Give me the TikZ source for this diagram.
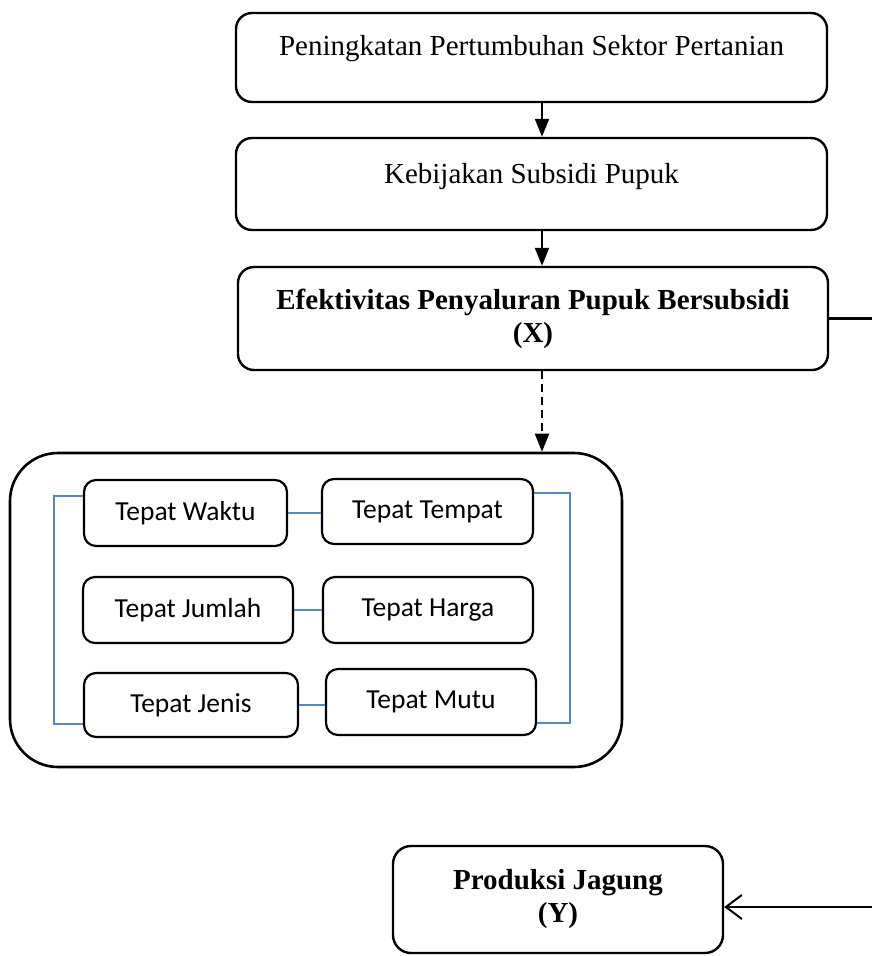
\documentclass[tikz,border=0pt]{standalone}
\usepackage{fontspec}
\setmainfont{Liberation Serif}
\newfontfamily\calibri{Carlito}
\usepackage{tikz}
\usetikzlibrary{arrows.meta}
\definecolor{linkblue}{RGB}{84,132,212}

\begin{document}
\begin{tikzpicture}[x=1pt, y=-1pt,
        topbox/.style={draw, line width=2.4pt, rounded corners=16pt, inner sep=0pt, minimum width=591pt, font=\fontsize{29}{33}\selectfont},
        itembox/.style={draw, line width=2.2pt, rounded corners=12pt, minimum width=210pt, minimum height=66pt, font=\calibri\fontsize{27.5}{32}\selectfont},
        link/.style={draw=linkblue, line width=1.6pt},
        flow/.style={line width=2.2pt, -{Triangle[length=18pt, width=14pt]}}]
        \useasboundingbox (0,0) rectangle (872,956); % page size

        % Main chain of boxes
        \node[topbox, text height=42pt, text depth=47pt] (growth) at (531.5,57.5) {Peningkatan Pertumbuhan Sektor Pertanian};
        \node[topbox, text height=45pt, text depth=47pt] (policy) at (531.5,184) {Kebijakan Subsidi Pupuk};
        \node[topbox, minimum width=590pt, minimum height=103pt, align=center, font=\fontsize{29}{33}\selectfont\bfseries] (effect) at (533,318.5) {Efektivitas Penyaluran Pupuk Bersubsidi\\(X)};
        \node[topbox, minimum width=330pt, minimum height=107pt, align=center, rounded corners=18pt, font=\fontsize{29}{33}\selectfont\bfseries] (output) at (558,899.5) {Produksi Jagung\\(Y)};

        % Container with the six indicators
        \node[draw, line width=2.6pt, rounded corners=48pt, minimum width=612pt, minimum height=314pt] (group) at (316,610) {};
        \node[itembox, minimum width=203pt] (waktu) at (185.5,513) {Tepat Waktu};
        \node[itembox, minimum height=65pt, minimum width=211pt] (tempat) at (427.5,511.5) {Tepat Tempat};
        \node[itembox] (jumlah) at (188,610) {Tepat Jumlah};
        \node[itembox] (harga) at (428,610) {Tepat Harga};
        \node[itembox, minimum width=214pt, minimum height=64pt] (jenis) at (191,705) {Tepat Jenis};
        \node[itembox] (mutu) at (431,702) {Tepat Mutu};

        \coordinate (axis) at (542,0); % x of the down arrows
        \coordinate (rtop) at (872,318.5); % right edge, upper
        \coordinate (rbot) at (872,907); % right edge, lower

        \draw[flow] (growth.south -| axis) -- (policy.north -| axis);
        \draw[flow] (policy.south -| axis) -- (effect.north -| axis);
        \draw[flow, dash pattern=on 8pt off 5pt] (effect.south -| axis) -- (group.north -| axis); % dashed arrow
        \draw[line width=2.2pt] (effect.east) -- (rtop);
        \draw[line width=2pt, -{Straight Barb[length=16pt, width=24pt]}] (rbot) -- (output.east |- rbot); % open arrow

        % Blue links between indicators
        \draw[link] ([yshift=17pt]waktu.west) -- ++(-29,0) |- ([yshift=-19pt]jenis.west);
        \draw[link] ([yshift=18.5pt]tempat.east) -- ++(36,0) |- ([yshift=-21pt]mutu.east);
        \draw[link] (waktu.east) -- (waktu.east -| tempat.west);
        \draw[link] (jumlah.east) -- (harga.west);
        \draw[link] (jenis.east) -- (jenis.east -| mutu.west);
\end{tikzpicture}
\end{document}
